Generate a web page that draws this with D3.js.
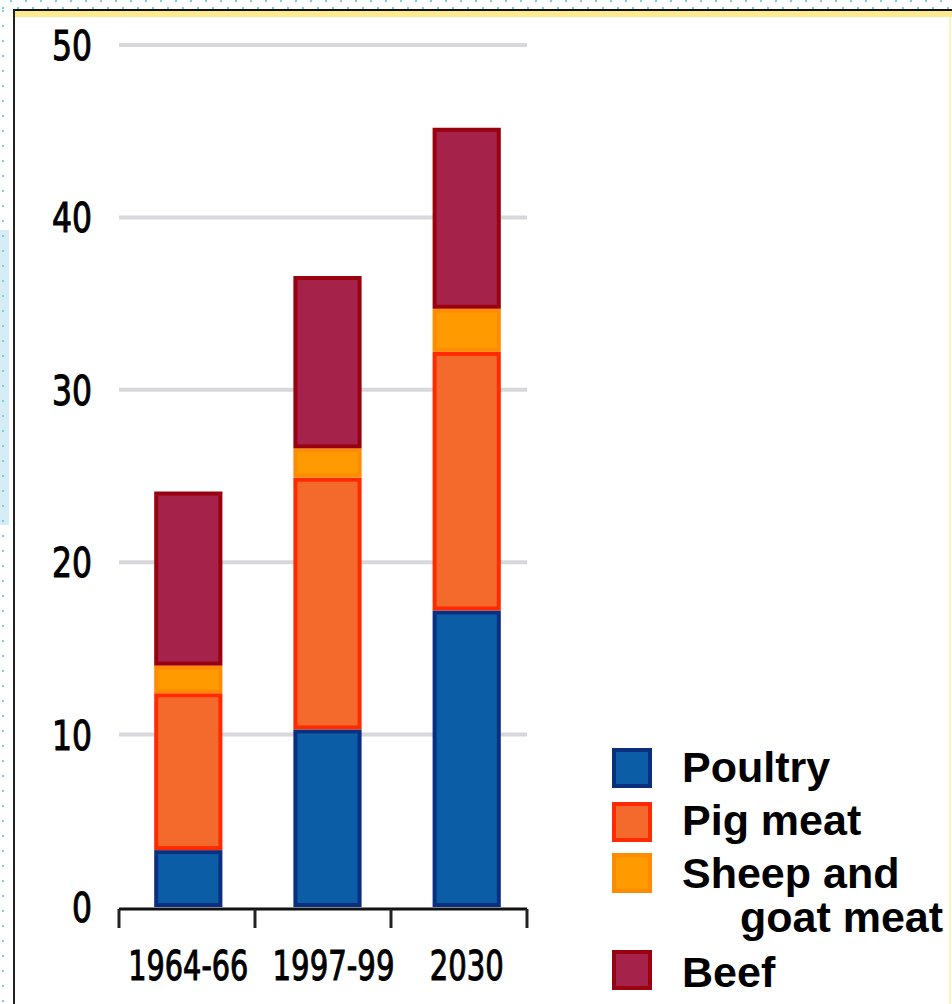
<!DOCTYPE html>
<html>
<head>
<meta charset="utf-8">
<script src="https://cdn.jsdelivr.net/npm/d3@7"></script>
<style>
  body { margin: 0; background: #fff; }
  svg { display: block; }
  .tick-label { font-family: "DejaVu Sans Condensed", "Liberation Sans Narrow", sans-serif; fill: #000; stroke: #000; stroke-width: 1; }
  .legend-label { font-family: "Liberation Sans", Arial, sans-serif; font-weight: bold; fill: #000; }
</style>
</head>
<body>
<div class="canvas"></div>
<script>
// data
const periods = ['1964-66', '1997-99', '2030'];
const seriesNames = ['Poultry', 'Pig meat', 'Sheep and goat meat', 'Beef'];
const poultry = [3.3, 10.3, 17.2];
const pigMeat = [9.1, 14.6, 15.0];
const sheepGoat = [1.6, 1.7, 2.5];
const beef = [10.1, 10.0, 10.5];
const yTicks = [0, 10, 20, 30, 40, 50];

const fills = ['#0b5ea6', '#f4692c', '#ff9a00', '#a5224a'];
const strokes = ['#0a2f80', '#ff2a00', '#ff8c00', '#990010'];

const width = 952;
const height = 1004;

const svg = d3.select('.canvas')
    .append('svg')
    .attr('width', width)
    .attr('height', height);

// frame bits round the chart
const frame = svg.append('g');
frame.append('rect').attr('x', 0).attr('y', 230).attr('width', 9).attr('height', 295).attr('fill', '#d6edf5');
frame.append('rect').attr('x', 14).attr('y', 11).attr('width', width - 14).attr('height', 6).attr('fill', '#fde98f');
frame.append('line').attr('x1', 13).attr('x2', width).attr('y1', 10).attr('y2', 10)
    .attr('stroke', '#111').attr('stroke-width', 2);
frame.append('line').attr('x1', 14).attr('x2', 14).attr('y1', 10).attr('y2', height)
    .attr('stroke', '#222').attr('stroke-width', 2);
frame.append('line').attr('x1', 950).attr('x2', 950).attr('y1', 17).attr('y2', height)
    .attr('stroke', '#fdf3c0').attr('stroke-width', 2);
[1, 8].forEach(yy => {
    frame.append('line').attr('x1', yy == 1 ? 10 : 2).attr('x2', width).attr('y1', yy).attr('y2', yy)
        .attr('stroke', '#7ccbe0').attr('stroke-width', 2).attr('stroke-dasharray', '2 13');
});
frame.append('line').attr('x1', 3).attr('x2', 3).attr('y1', 10).attr('y2', height)
    .attr('stroke', '#7ccbe0').attr('stroke-width', 2).attr('stroke-dasharray', '2 13');

// scales
const y = d3.scaleLinear().domain([0, 50]).range([907, 45]);
const x = d3.scaleBand().domain(periods).range([118, 537])
    .paddingInner(0.51).paddingOuter(0.26);

const graph = svg.append('g');

// squeeze a text horizontally to the width seen in the chart
function squeeze(sel, targetW, anchor) {
    sel.each(function (d, i) {
        const node = d3.select(this);
        const w = this.getComputedTextLength();
        const tw = typeof targetW === 'function' ? targetW(d, i) : targetW;
        const sx = tw / w;
        const px = +node.attr('x'), py = +node.attr('y');
        node.attr('x', null).attr('y', null)
            .attr('transform', `translate(${px},${py}) scale(${sx},1)`);
    });
}

// gridlines
graph.selectAll('line.grid')
    .data(yTicks.filter(d => d > 0))
    .enter().append('line')
    .attr('class', 'grid')
    .attr('x1', 119).attr('x2', 527)
    .attr('y1', d => y(d)).attr('y2', d => y(d))
    .attr('stroke', '#d8d8dc')
    .attr('stroke-width', 4);

// y labels
graph.selectAll('text.ylab')
    .data(yTicks)
    .enter().append('text')
    .attr('class', 'tick-label ylab')
    .attr('x', 92)
    .attr('y', d => y(d) + 15)
    .attr('text-anchor', 'end')
    .attr('font-size', 41)
    .text(d => d)
    .call(squeeze, d => String(d).length * 20);

// stacked bars
const rows = periods.map((p, i) => ({
    period: p,
    'Poultry': poultry[i],
    'Pig meat': pigMeat[i],
    'Sheep and goat meat': sheepGoat[i],
    'Beef': beef[i]
}));
const stack = d3.stack().keys(seriesNames);
const layers = stack(rows);

layers.forEach((layer, k) => {
    graph.selectAll('rect.s' + k)
        .data(layer)
        .enter().append('rect')
        .attr('class', 's' + k)
        .attr('x', d => x(d.data.period) + 2)
        .attr('y', d => y(d[1]) + 2)
        .attr('width', x.bandwidth() - 4)
        .attr('height', d => Math.max(0, y(d[0]) - y(d[1]) - 4))
        .attr('fill', fills[k])
        .attr('stroke', strokes[k])
        .attr('stroke-width', 4);
});

// x axis
const axisY = 909;
graph.append('line')
    .attr('x1', 119).attr('x2', 527)
    .attr('y1', axisY).attr('y2', axisY)
    .attr('stroke', '#111').attr('stroke-width', 3);
const tickXs = d3.range(periods.length + 1).map(i => 119 + i * 136);
graph.selectAll('line.xtick')
    .data(tickXs)
    .enter().append('line')
    .attr('class', 'xtick')
    .attr('x1', d => d).attr('x2', d => d)
    .attr('y1', axisY).attr('y2', 928)
    .attr('stroke', '#222').attr('stroke-width', 3);

const xLabelWidths = [120, 122, 74];
graph.selectAll('text.xlab')
    .data(periods)
    .enter().append('text')
    .attr('class', 'tick-label xlab')
    .attr('x', (d, i) => x(d) + x.bandwidth() / 2 + (i == 1 ? 6 : 0))
    .attr('y', 980)
    .attr('text-anchor', 'middle')
    .attr('font-size', 41)
    .text(d => d)
    .call(squeeze, (d, i) => xLabelWidths[i]);

// legend
const legendRows = [
    { label: ['Poultry'], box: 748, base: [782] },
    { label: ['Pig meat'], box: 802, base: [835] },
    { label: ['Sheep and', 'goat meat'], box: 853, base: [888, 932] },
    { label: ['Beef'], box: 950, base: [987] }
];
const legend = svg.append('g');
legendRows.forEach((r, k) => {
    legend.append('rect')
        .attr('x', 614).attr('y', r.box + 2)
        .attr('width', 36).attr('height', 36)
        .attr('fill', fills[k])
        .attr('stroke', strokes[k])
        .attr('stroke-width', 4);
    r.label.forEach((t, j) => {
        legend.append('text')
            .attr('class', 'legend-label')
            .attr('x', j == 0 ? 682 : 740)
            .attr('y', r.base[j])
            .attr('font-size', 43)
            .text(t);
    });
});
</script>
</body>
</html>
